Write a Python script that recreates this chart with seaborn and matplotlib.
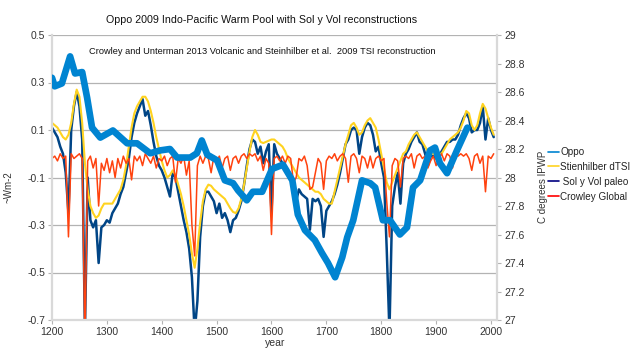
import numpy as np
import matplotlib
matplotlib.use("Agg")
from matplotlib import pyplot as plt
from matplotlib.lines import Line2D
from matplotlib.ticker import FuncFormatter
import seaborn as sns

# 5-year grid for the forcing series (left axis, ~Wm-2)
years = np.arange(1200, 2010, 5)

tsi = [0.13, 0.12, 0.11, 0.09, 0.07, 0.06, 0.08, 0.13, 0.21, 0.27,
       0.24, 0.13, -0.04, -0.15, -0.22, -0.25, -0.27, -0.26, -0.23, -0.21,
       -0.21, -0.21, -0.21, -0.19, -0.17, -0.15, -0.11, -0.05, 0.03, 0.11,
       0.17, 0.20, 0.22, 0.24, 0.24, 0.22, 0.18, 0.13, 0.07, 0.02,
       -0.03, -0.07, -0.10, -0.09, -0.07, -0.09, -0.13, -0.17, -0.22, -0.28,
       -0.34, -0.42, -0.48, -0.40, -0.29, -0.20, -0.15, -0.13, -0.135, -0.15,
       -0.16, -0.17, -0.18, -0.19, -0.21, -0.23, -0.245, -0.25, -0.23, -0.19,
       -0.13, -0.06, 0.01, 0.07, 0.10, 0.08, 0.05, 0.045, 0.05, 0.055,
       0.06, 0.06, 0.05, 0.04, 0.03, 0.01, -0.02, -0.04, -0.06, -0.08,
       -0.10, -0.11, -0.12, -0.13, -0.14, -0.15, -0.16, -0.16, -0.17, -0.19,
       -0.20, -0.21, -0.21, -0.16, -0.11, -0.06, -0.01, 0.04, 0.08, 0.12,
       0.13, 0.11, 0.08, 0.09, 0.12, 0.14, 0.15, 0.13, 0.11, 0.06,
       0.00, -0.06, -0.12, -0.15, -0.12, -0.09, -0.06, -0.03, 0.00, 0.01,
       0.04, 0.06, 0.08, 0.09, 0.07, 0.05, 0.03, 0.01, 0.00, 0.00,
       -0.005, 0.00, 0.00, 0.02, 0.04, 0.06, 0.07, 0.08, 0.09, 0.11,
       0.14, 0.18, 0.17, 0.12, 0.10, 0.12, 0.17, 0.21, 0.19, 0.15,
       0.11, 0.08]

solvol = [0.11, 0.09, 0.07, 0.03, 0.00, -0.08, -0.25, 0.10, 0.20, 0.26,
          0.20, 0.06, -0.75, -0.10, -0.28, -0.31, -0.28, -0.46, -0.31, -0.30,
          -0.28, -0.29, -0.25, -0.23, -0.21, -0.17, -0.14, -0.08, -0.02, 0.07,
          0.13, 0.17, 0.20, 0.23, 0.16, 0.18, 0.12, 0.05, -0.01, -0.05,
          -0.07, -0.10, -0.14, -0.18, -0.08, -0.10, -0.16, -0.22, -0.28, -0.33,
          -0.40, -0.52, -0.75, -0.62, -0.35, -0.22, -0.16, -0.16, -0.18, -0.20,
          -0.25, -0.21, -0.27, -0.25, -0.28, -0.33, -0.28, -0.27, -0.24, -0.20,
          -0.13, -0.05, 0.02, 0.06, 0.05, 0.00, 0.03, -0.04, 0.01, 0.04,
          -0.25, 0.04, 0.00, -0.02, -0.04, -0.06, -0.08, -0.09, -0.12, -0.20,
          -0.15, -0.17, -0.18, -0.19, -0.32, -0.19, -0.20, -0.19, -0.22, -0.35,
          -0.24, -0.22, -0.20, -0.17, -0.13, -0.08, -0.02, 0.04, 0.06, 0.10,
          0.11, 0.10, 0.00, 0.07, 0.11, 0.13, 0.12, 0.08, 0.01, 0.03,
          -0.04, -0.10, -0.40, -0.75, -0.22, -0.14, -0.08, -0.21, -0.04, 0.00,
          0.02, 0.05, 0.07, 0.09, 0.05, 0.04, 0.00, -0.05, -0.01, -0.01,
          -0.02, -0.01, 0.01, 0.03, 0.05, 0.05, 0.06, 0.06, 0.08, 0.12,
          0.15, 0.17, 0.15, 0.09, 0.10, 0.10, 0.13, 0.20, 0.06, 0.15,
          0.10, 0.07]

crowley = [-0.02, -0.01, -0.03, 0.00, -0.02, -0.01, -0.35, 0.00, -0.02, -0.01,
           0.00, -0.02, -0.80, -0.03, -0.01, -0.06, -0.02, -0.22, -0.04, -0.07,
           -0.02, -0.08, -0.03, -0.10, -0.02, -0.06, -0.01, -0.04, -0.02, -0.11,
           -0.01, -0.03, -0.01, -0.05, 0.00, -0.02, -0.04, -0.01, -0.06, -0.02,
           -0.03, -0.01, -0.05, -0.02, -0.01, -0.12, -0.02, -0.04, -0.01, -0.09,
           -0.03, -0.30, -0.43, -0.05, -0.01, -0.04, -0.01, -0.02, -0.08, -0.01,
           -0.03, -0.01, -0.06, -0.02, -0.01, -0.07, -0.02, -0.01, -0.04, -0.01,
           0.00, -0.02, 0.00, -0.01, 0.00, -0.03, -0.01, -0.07, -0.02, -0.04,
           -0.34, -0.02, -0.01, -0.03, -0.01, -0.04, -0.01, -0.02, -0.12, -0.10,
           -0.02, -0.03, -0.01, -0.05, -0.15, -0.14, -0.08, -0.02, -0.04, -0.15,
           -0.03, -0.01, -0.02, 0.00, -0.03, -0.01, 0.00, -0.02, -0.12, -0.01,
           0.00, -0.02, -0.08, -0.01, -0.02, -0.06, -0.01, -0.06, -0.02, -0.01,
           -0.03, -0.02, -0.20, -0.35, -0.05, -0.02, -0.03, -0.14, -0.02, -0.01,
           -0.02, 0.00, -0.06, -0.01, 0.00, -0.02, -0.01, -0.06, -0.03, -0.01,
           -0.05, -0.02, 0.00, -0.03, 0.00, -0.01, -0.06, 0.00, -0.01, 0.00,
           -0.01, 0.00, -0.02, -0.07, -0.01, 0.00, -0.04, -0.01, -0.16, -0.01,
           -0.02, 0.00]

# Oppo 2009 IPWP SST (right axis, C)
oppo_year = [1200, 1205, 1218, 1233, 1242, 1255, 1264, 1273, 1288, 1311,
             1337, 1355, 1379, 1397, 1415, 1428, 1452, 1464, 1473, 1483,
             1501, 1515, 1530, 1539, 1555, 1566, 1583, 1601, 1621, 1638,
             1648, 1661, 1679, 1692, 1703, 1716, 1729, 1738, 1749, 1765,
             1780, 1789, 1803, 1816, 1834, 1847, 1858, 1871, 1889, 1898,
             1907, 1920, 1938, 1957]
oppo_sst = [28.70, 28.64, 28.66, 28.85, 28.73, 28.74, 28.56, 28.35, 28.28, 28.33,
            28.24, 28.24, 28.17, 28.19, 28.20, 28.14, 28.14, 28.17, 28.26, 28.16,
            28.12, 27.98, 27.96, 27.91, 27.84, 27.90, 27.90, 28.06, 28.09, 27.98,
            27.74, 27.63, 27.56, 27.47, 27.40, 27.30, 27.44, 27.58, 27.70, 27.98,
            27.96, 27.93, 27.70, 27.70, 27.60, 27.65, 27.93, 27.98, 28.19, 28.21,
            28.10, 28.03, 28.19, 28.35]

assert len(tsi) == len(years) and len(solvol) == len(years) and len(crowley) == len(years)
assert len(oppo_year) == len(oppo_sst)

labels = ["Oppo", "Stienhilber dTSI", " Sol y Vol paleo", "Crowley Global"]
c_oppo, c_tsi, c_sv, c_cr = "#0084d1", "#ffd320", "#004586", "#ff420e"

sns.set_style("white")
plt.rcParams['font.family'] = ['Liberation Sans', 'DejaVu Sans']
plt.rcParams['axes.unicode_minus'] = False

fig = plt.figure(figsize=(6.4, 3.5), dpi=100)
ax = fig.add_axes([52 / 640, 30 / 350, 445 / 640, 285 / 350])
ax2 = ax.twinx()

sns.lineplot(x=years, y=solvol, ax=ax, color=c_sv, lw=1.8)
sns.lineplot(x=years, y=tsi, ax=ax, color=c_tsi, lw=1.5)
sns.lineplot(x=years, y=crowley, ax=ax, color=c_cr, lw=1.1)
sns.lineplot(x=oppo_year, y=oppo_sst, ax=ax2, color=c_oppo, lw=4.8)

ax.set_xlim(1200, 2011)
ax.set_ylim(-0.7, 0.5)
ax.set_yticks(np.arange(-0.7, 0.51, 0.2))
ax.set_xticks(np.arange(1200, 2001, 100))
ax.yaxis.set_major_formatter(FuncFormatter(lambda v, _: f"{round(v, 1):g}"))
ax2.set_ylim(27, 29)
ax2.set_yticks(np.arange(27, 29.01, 0.2))
ax2.yaxis.set_major_formatter(FuncFormatter(lambda v, _: f"{round(v, 1):g}"))

ax.grid(axis='y', color='#b3b3b3', lw=0.9)
ax.set_axisbelow(True)
for a in (ax, ax2):
    a.set_xlabel("")
    a.set_ylabel("")
    a.spines['top'].set_visible(False)
ax.spines['right'].set_visible(False)
ax2.spines['left'].set_visible(False)
ax2.spines['bottom'].set_visible(False)
ax.spines['left'].set_color('#d9d9d9')
ax.spines['left'].set_linewidth(1.6)
ax.spines['bottom'].set_color('#d9d9d9')
ax.spines['bottom'].set_linewidth(1.6)
ax2.spines['right'].set_color('#d9d9d9')
ax2.spines['right'].set_linewidth(1.6)

ax.tick_params(axis='both', labelsize=7.5, colors='#333333', length=3,
               color='#b3b3b3', pad=2, left=True, bottom=True)
ax2.tick_params(axis='y', labelsize=7.5, colors='#333333', length=3,
                color='#b3b3b3', pad=2, right=True)

fig.text(262 / 640, 1 - 20 / 350, "Oppo 2009 Indo-Pacific Warm Pool with Sol y Vol reconstructions",
         ha='center', va='center', fontsize=7.7, color='#111111')
fig.text(262 / 640, 1 - 51 / 350,
         "Crowley and Unterman 2013 Volcanic and Steinhilber et al.  2009 TSI reconstruction",
         ha='center', va='center', fontsize=6.7, color='#111111')
fig.text(8 / 640, 1 - 187 / 350, "~Wm-2", rotation=90, ha='center', va='center',
         fontsize=7, color='#333333')
fig.text(543 / 640, 1 - 187 / 350, "C degrees IPWP", rotation=90, ha='center', va='center',
         fontsize=7, color='#333333')
fig.text(275 / 640, 1.5 / 350, "year", ha='center', va='bottom', fontsize=7.5, color='#333333')

handles = [Line2D([], [], color=c, lw=1.2) for c in (c_oppo, c_tsi, "#000080", "red")]
ax2.legend(handles, labels, loc='upper left', bbox_to_anchor=(548 / 640, 1 - 147 / 350),
           bbox_transform=fig.transFigure, frameon=False, fontsize=7.1,
           handlelength=1.1, handletextpad=0.15, labelspacing=0.5,
           borderpad=0, borderaxespad=0, labelcolor='#222222')

fig.savefig("out.png", dpi=100)
